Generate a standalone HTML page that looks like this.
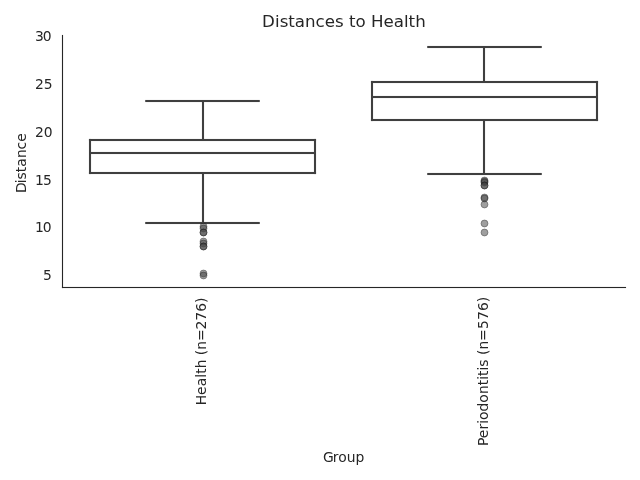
<!DOCTYPE html>
<html lang="en">
<head>
<meta charset="utf-8">
<title>Distances to Health</title>
<style>
html,body{margin:0;padding:0;background:#fff;}
body{width:640px;height:480px;overflow:hidden;}
svg{display:block;}
text{font-family:"DejaVu Sans","Liberation Sans",sans-serif;fill:#262626;}
.t{font-size:13.889px;}
.h{font-size:16.667px;}
.l{fill:#3f3f3f;}
.s{fill:#262626;}
.f{fill:#3f3f3f;fill-opacity:0.5;stroke:#111111;stroke-opacity:0.5;stroke-width:0.72;}
</style>
</head>
<body>
<svg width="640" height="480" viewBox="0 0 640 480">
<rect x="0" y="0" width="640" height="480" fill="#ffffff"/>

<g id="box-health">
<rect class="l" x="201.958" y="100.22" width="2.083" height="40.56"/>
<rect class="l" x="201.958" y="172.22" width="2.083" height="51.56"/>
<rect class="l" x="145.22" y="99.959" width="114.56" height="2.083"/>
<rect class="l" x="145.22" y="221.958" width="114.56" height="2.083"/>
<rect class="l" x="88.959" y="138.958" width="227.083" height="2.083"/>
<rect class="l" x="88.959" y="171.958" width="227.083" height="2.083"/>
<rect class="l" x="88.959" y="138.958" width="2.083" height="35.083"/>
<rect class="l" x="313.959" y="138.958" width="2.083" height="35.083"/>
<rect class="l" x="89.22" y="151.958" width="226.56" height="2.083"/>
<circle class="f" cx="203.5" cy="226.5" r="3.47"/>
<circle class="f" cx="203.5" cy="228.5" r="3.47"/>
<circle class="f" cx="203.5" cy="232.5" r="3.47"/>
<circle class="f" cx="203.5" cy="232.5" r="3.47"/>
<circle class="f" cx="203.5" cy="241.5" r="3.47"/>
<circle class="f" cx="203.5" cy="243.5" r="3.47"/>
<circle class="f" cx="203.5" cy="246.5" r="3.47"/>
<circle class="f" cx="203.5" cy="246.5" r="3.47"/>
<circle class="f" cx="203.5" cy="273.5" r="3.47"/>
<circle class="f" cx="203.5" cy="275.5" r="3.47"/>
</g>
<g id="box-periodontitis">
<rect class="l" x="482.959" y="46.22" width="2.083" height="36.56"/>
<rect class="l" x="482.959" y="119.22" width="2.083" height="55.56"/>
<rect class="l" x="427.22" y="45.959" width="114.56" height="2.083"/>
<rect class="l" x="427.22" y="172.958" width="114.56" height="2.083"/>
<rect class="l" x="370.959" y="80.959" width="227.083" height="2.083"/>
<rect class="l" x="370.959" y="118.959" width="227.083" height="2.083"/>
<rect class="l" x="370.959" y="80.959" width="2.083" height="40.083"/>
<rect class="l" x="595.958" y="80.959" width="2.083" height="40.083"/>
<rect class="l" x="371.22" y="95.959" width="226.56" height="2.083"/>
<circle class="f" cx="484.5" cy="180.5" r="3.47"/>
<circle class="f" cx="484.5" cy="181.5" r="3.47"/>
<circle class="f" cx="484.5" cy="182.5" r="3.47"/>
<circle class="f" cx="484.5" cy="185.5" r="3.47"/>
<circle class="f" cx="484.5" cy="185.5" r="3.47"/>
<circle class="f" cx="484.5" cy="197.5" r="3.47"/>
<circle class="f" cx="484.5" cy="198.5" r="3.47"/>
<circle class="f" cx="484.5" cy="204.5" r="3.47"/>
<circle class="f" cx="484.5" cy="223.5" r="3.47"/>
<circle class="f" cx="484.5" cy="232.5" r="3.47"/>
</g>
<g id="spines">
<rect class="s" x="61.944" y="34.944" width="1.111" height="253.111"/>
<rect class="s" x="61.944" y="286.945" width="564.111" height="1.111"/>
</g>
<g id="yticks">
<text class="t" x="35 42.75" y="41">30</text>
<text class="t" x="35 43.75" y="89">25</text>
<text class="t" x="35 43.75" y="137">20</text>
<text class="t" x="35 43" y="185">15</text>
<text class="t" x="35 42.75" y="232">10</text>
<text class="t" x="43" y="280">5</text>
</g>
<g id="xticks">
<text class="t" transform="translate(206 403.75) rotate(-90)" x="-1.5 8.75 17.5 26 30 35.5 44 48.5 54 62.75 74.25 83 92 100.75" y="0">Health (n=276)</text>
<text class="t" transform="translate(488 445.5) rotate(-90)" x="-0.5 7.25 16 21.75 25.5 34 42.75 51.5 60.25 65.75 69.5 75 78.75 86 90.5 96 104.5 116.5 125.5 134.5 143.25" y="0">Periodontitis (n=576)</text>
</g>
<g id="labels">
<text class="t" x="323 332.75 338.25 346.75 355.5" y="462">Group</text>
<text class="t" transform="translate(26 191.75) rotate(-90)" x="-1.25 8.5 12.25 19.5 25 33.75 42.25 50" y="0">Distance</text>
</g>
<text id="title" class="h" x="262 275 279.75 288.25 294.75 305 315.5 324.75 335 343.75 349 355.5 365.75 371 383.5 393.75 404 408.5 415.25" y="27">Distances to Health</text>
</svg>
</body>
</html>
